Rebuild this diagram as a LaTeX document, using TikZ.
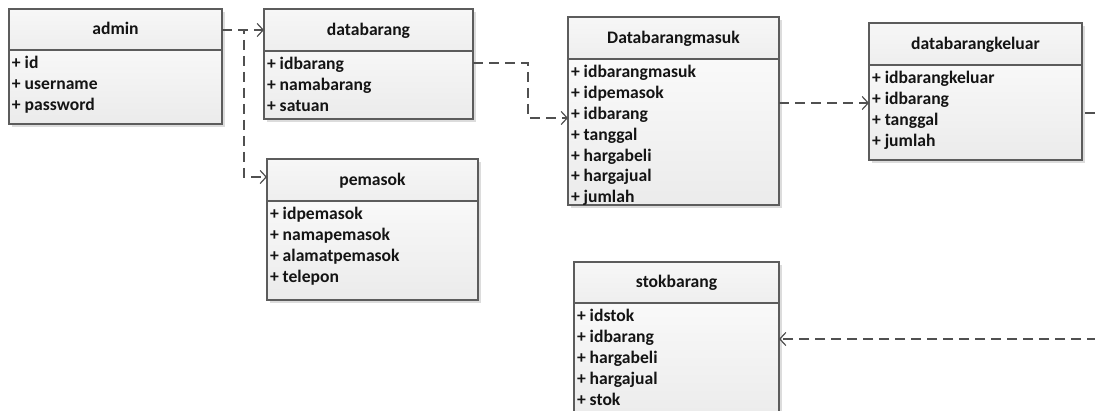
\documentclass[tikz,border=0pt]{standalone}
\usepackage{fontspec}
\setmainfont{Carlito}
\usetikzlibrary{arrows.meta,calc,shadows}

\definecolor{boxline}{HTML}{5C5C5C}
\definecolor{linkline}{HTML}{505050}
\definecolor{headtop}{HTML}{F7F7F7}
\definecolor{headbot}{HTML}{EEEEEE}
\definecolor{bodytop}{HTML}{FEFEFE}
\definecolor{bodybot}{HTML}{EBEBEB}
\definecolor{shadowc}{HTML}{DCDCDC}

\tikzset{
  classbox/.style={draw=boxline, line width=1.1pt, inner sep=0pt, outer sep=0pt,
    top color=bodytop, bottom color=bodybot,
    drop shadow={shadow xshift=3pt, shadow yshift=-3pt, fill=shadowc, opacity=1}},
  headbox/.style={draw=boxline, line width=1.1pt, inner sep=0pt, outer sep=0pt,
    top color=headtop, bottom color=headbot},
  umltext/.style={inner sep=0pt, outer sep=0pt, text=black!92,
    font=\bfseries\fontsize{17.6}{21}\selectfont},
  link/.style={draw=linkline, line width=1.4pt, dash pattern=on 10pt off 6pt,
    -{Straight Barb[length=6pt,width=13pt,line width=1.2pt]}},
}

% #1 name, #2 left, #3 top, #4 right, #5 bottom of the title bar, #6 bottom,
% #7 class name, #8 attributes
\newcommand{\umlclass}[8]{%
  \node[classbox, anchor=north west, minimum width={#4-#2}, minimum height={#6-#3}]
    (#1) at (#2,#3) {};
  \node[headbox, anchor=north west, minimum width={#4-#2}, minimum height={#5-#3}]
    (#1-head) at (#2,#3) {};
  \node[umltext, anchor=base] (#1-title) at ({(#2+#4)/2},{(#3+#5)/2+5.5}) {#7};
  \foreach \attr [count=\i from 0] in {#8}
    \node[umltext, anchor=base west] (#1-r\i) at ({#2+3},{#5+19+20.8*\i}) {+ \attr};
}

\begin{document}
\begin{tikzpicture}[x=1pt,y=-1pt]
  \useasboundingbox (0,0) rectangle (1095,411);
  \clip (0,0) rectangle (1095,411);

  \umlclass{admin}{9}{9}{222}{50}{124}{admin}{id,username,password}
  \umlclass{databarang}{264}{9}{473}{51}{119}{databarang}{idbarang,namabarang,satuan}
  \umlclass{pemasok}{267}{159}{478}{201}{300}{pemasok}{idpemasok,namapemasok,alamatpemasok,telepon}
  \umlclass{masuk}{568}{17}{779}{59}{205}{Databarangmasuk}{idbarangmasuk,idpemasok,idbarang,tanggal,hargabeli,hargajual,jumlah}
  \umlclass{keluar}{869}{23}{1082}{65}{160}{databarangkeluar}{idbarangkeluar,idbarang,tanggal,jumlah}
  \umlclass{stok}{574}{262}{779}{303}{420}{stokbarang}{idstok,idbarang,hargabeli,hargajual,stok}

  % admin -> databarang and admin -> pemasok
  \draw[link] ($(admin.north east)+(0,21)$) -- ($(databarang.north west)+(0,21)$);
  \draw[link] ($(admin.north east)+(0,21)$) -- ++(22,0) |- ($(pemasok.north west)+(0,18)$);
  % databarang -> Databarangmasuk
  \draw[link] ($(databarang.north east)+(0,54)$) -- ++(55,0) |- ($(masuk.north west)+(0,101)$);
  % Databarangmasuk -> databarangkeluar
  \draw[link] ($(masuk.north east)+(0,86)$) -- ($(keluar.north west)+(0,80)$);
  % databarangkeluar -> stokbarang
  \draw[link, dash phase=-3pt] ($(keluar.north east)+(0,90)$) -- ++(40,0) |- ($(stok.north east)+(0,77)$);
\end{tikzpicture}
\end{document}
